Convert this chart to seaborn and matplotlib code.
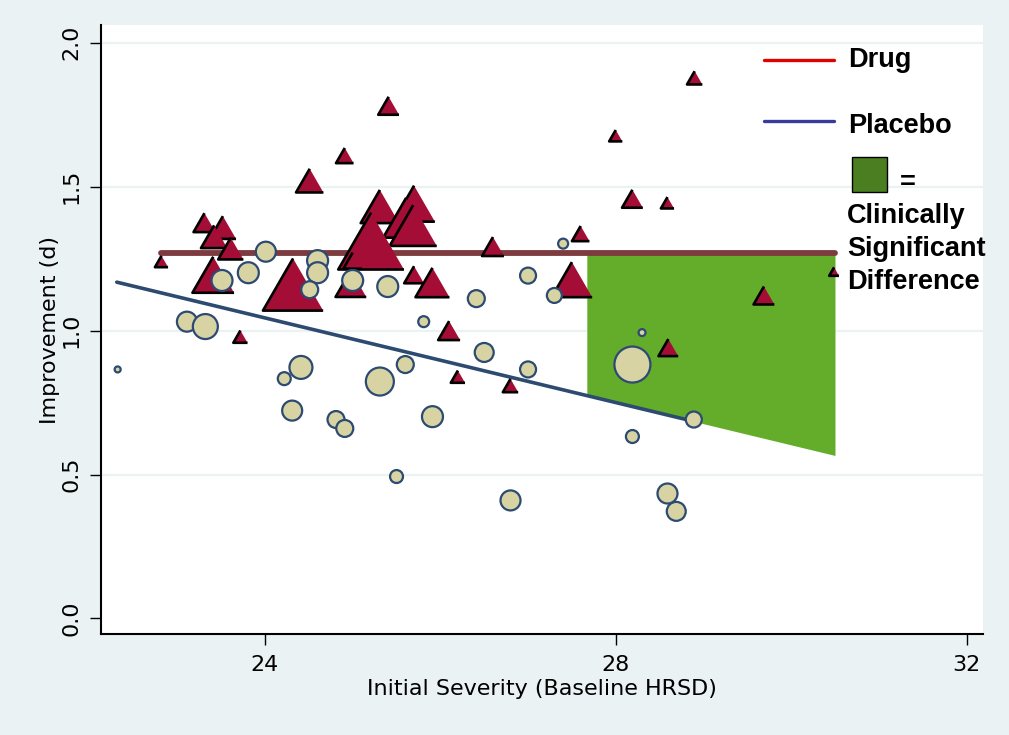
import matplotlib
matplotlib.use("Agg")
import matplotlib.pyplot as plt
import seaborn as sns
import numpy as np
import pandas as pd
from matplotlib.patches import Rectangle
from matplotlib.lines import Line2D

# ---------------- data ----------------
drug_x = [25.41, 24.91, 24.51, 25.31, 25.70, 25.61, 25.69, 25.21, 25.00, 25.70,
          25.91, 24.98, 26.10, 23.31, 23.52, 23.42, 23.61, 22.82, 23.41, 24.32,
          23.72, 26.60, 27.60, 27.50, 28.90, 28.00, 28.19, 28.59, 29.69, 30.49,
          28.60, 26.20, 26.80]
drug_y = [1.781, 1.608, 1.521, 1.431, 1.441, 1.392, 1.365, 1.311, 1.243, 1.194,
          1.167, 1.163, 1.000, 1.375, 1.358, 1.326, 1.285, 1.240, 1.194, 1.160,
          0.979, 1.292, 1.337, 1.177, 1.878, 1.677, 1.458, 1.444, 1.122, 1.205,
          0.941, 0.840, 0.809]
drug_weight = [90, 64, 156, 306, 361, 441, 462, 900, 72, 81,
               240, 196, 100, 100, 144, 144, 132, 36, 361, 756,
               42, 100, 64, 342, 49, 36, 90, 36, 90, 20,
               81, 42, 49]

placebo_x = [24.01, 23.81, 23.51, 24.60, 24.60, 24.51, 25.00, 25.40, 26.41, 27.00,
             27.30, 27.40, 25.81, 23.11, 23.32, 22.32, 24.22, 24.41, 25.31, 25.60,
             26.50, 27.00, 24.31, 24.81, 24.91, 25.91, 25.50, 26.80, 28.30, 28.19,
             28.89, 28.19, 28.59, 28.69]
placebo_y = [1.274, 1.201, 1.174, 1.243, 1.201, 1.142, 1.174, 1.153, 1.111, 1.191,
             1.122, 1.302, 1.031, 1.031, 1.014, 0.865, 0.833, 0.872, 0.823, 0.882,
             0.924, 0.865, 0.722, 0.691, 0.660, 0.701, 0.493, 0.410, 0.993, 0.882,
             0.691, 0.632, 0.434, 0.372]
placebo_weight = [100, 110, 110, 110, 110, 72, 110, 110, 72, 64,
                  56, 25, 30, 100, 156, 9, 42, 132, 196, 72,
                  90, 64, 100, 72, 72, 110, 42, 100, 12, 324,
                  64, 42, 100, 90]

# fitted lines
drug_level = 1.27
drug_fit_x = [22.81, 30.50]
placebo_intercept = 2.808
placebo_slope = -0.0735
placebo_fit_x = [22.31, 28.84]
csd_x = [27.67, 30.50]          # region of clinically significant difference

x_ticks = [24, 28, 32]
y_ticks = [0.0, 0.5, 1.0, 1.5, 2.0]
y_tick_labels = ["0.0", "0.5", "1.0", "1.5", "2.0"]
x_label = "Initial Severity (Baseline HRSD)"
y_label = "Improvement (d)"
legend_labels = ["Drug", "Placebo"]
csd_text = ["Clinically", "Significant", "Difference"]

# ---------------- styling ----------------
BG = "#eaf2f3"
TRI_FILL = "#a30d36"
CIRC_FILL = "#d8d3a2"
CIRC_EDGE = "#2c4a72"
DRUG_LINE = "#7d3a3f"
PLAC_LINE = "#2d4a70"
GREEN = "#63ad2a"
GREEN_KEY = "#4a7e20"
LEG_RED = "#e00000"
LEG_BLUE = "#3a3a9a"

sns.set_theme(style="white")
plt.rcParams["font.family"] = ["DejaVu Sans"]

fig = plt.figure(figsize=(10.09, 7.35), dpi=100, facecolor=BG)
ax = fig.add_axes([101 / 1009, 101 / 735, 882 / 1009, 609 / 735])
ax.set_facecolor("white")
ax.set_xlim(22.13, 32.188)
ax.set_ylim(-0.054, 2.0615)

for yt in y_ticks[1:]:
    ax.axhline(yt, color=BG, lw=1.6, zorder=0.5)

# clinically significant region
fx = np.array(csd_x)
ax.fill_between(fx, placebo_intercept + placebo_slope * fx, drug_level,
                color=GREEN, lw=0, zorder=1)

# fit lines
px = np.array(placebo_fit_x)
sns.lineplot(x=px, y=placebo_intercept + placebo_slope * px, color=PLAC_LINE,
             lw=2.6, ax=ax, zorder=2, solid_capstyle="round")
sns.lineplot(x=drug_fit_x, y=[drug_level] * 2, color=DRUG_LINE, lw=4.2,
             ax=ax, zorder=2, solid_capstyle="round")

# scatter points
df_drug = pd.DataFrame({"x": drug_x, "y": drug_y, "w": drug_weight})
df_plac = pd.DataFrame({"x": placebo_x, "y": placebo_y, "w": placebo_weight})
k_tri = 2.0736 * 1.2
k_circ = 2.0736
tri = [(0, 0.866), (-1, -0.866), (1, -0.866)]
sns.scatterplot(data=df_drug, x="x", y="y", size="w", sizes=(0, k_tri * 1000),
                size_norm=(0, 1000), marker=tri, color=TRI_FILL,
                edgecolor="black", linewidth=1.9, legend=False, ax=ax, zorder=3)
sns.scatterplot(data=df_plac, x="x", y="y", size="w", sizes=(0, k_circ * 1000),
                size_norm=(0, 1000), marker="o", color=CIRC_FILL,
                edgecolor=CIRC_EDGE, linewidth=1.6, legend=False, ax=ax, zorder=4)

# axes
for s in ["top", "right"]:
    ax.spines[s].set_visible(False)
for s in ["left", "bottom"]:
    ax.spines[s].set_color("black")
    ax.spines[s].set_linewidth(1.5)
ax.set_xticks(x_ticks)
ax.set_xticklabels([str(t) for t in x_ticks])
ax.set_yticks(y_ticks)
ax.set_yticklabels(y_tick_labels, rotation=90, va="center")
ax.tick_params(axis="both", direction="out", length=8, width=1, color="black",
               labelsize=16, labelcolor="black", pad=6, left=True, bottom=True)
ax.tick_params(axis="x", pad=7)
ax.set_xlabel(x_label, fontsize=16, color="black", labelpad=3)
ax.set_ylabel(y_label, fontsize=16, color="black", labelpad=1)

# legend (drawn in axes fraction)
legfont = dict(family=["Liberation Sans", "DejaVu Sans"], fontsize=19.5,
               fontweight="bold", color="black", transform=ax.transAxes,
               va="baseline", ha="left")
ax.add_line(Line2D([0.7517, 0.8311], [0.9425, 0.9425], color=LEG_RED, lw=2.4,
                   transform=ax.transAxes, zorder=5))
ax.text(0.8475, 0.9315, legend_labels[0], **legfont)
ax.add_line(Line2D([0.7517, 0.8311], [0.8424, 0.8424], color=LEG_BLUE, lw=2.4,
                   transform=ax.transAxes, zorder=5))
ax.text(0.8475, 0.8222, legend_labels[1], **legfont)
ax.add_patch(Rectangle((0.8511, 0.7263), 0.0404, 0.0575, facecolor=GREEN_KEY,
                       edgecolor="black", lw=1, transform=ax.transAxes, zorder=5))
ax.text(0.906, 0.729, "=", **legfont)
for txt, yb in zip(csd_text, [0.6744, 0.6207, 0.566]):
    ax.text(0.846, yb, txt, **legfont)

fig.savefig("out.png", dpi=100, facecolor=BG)
